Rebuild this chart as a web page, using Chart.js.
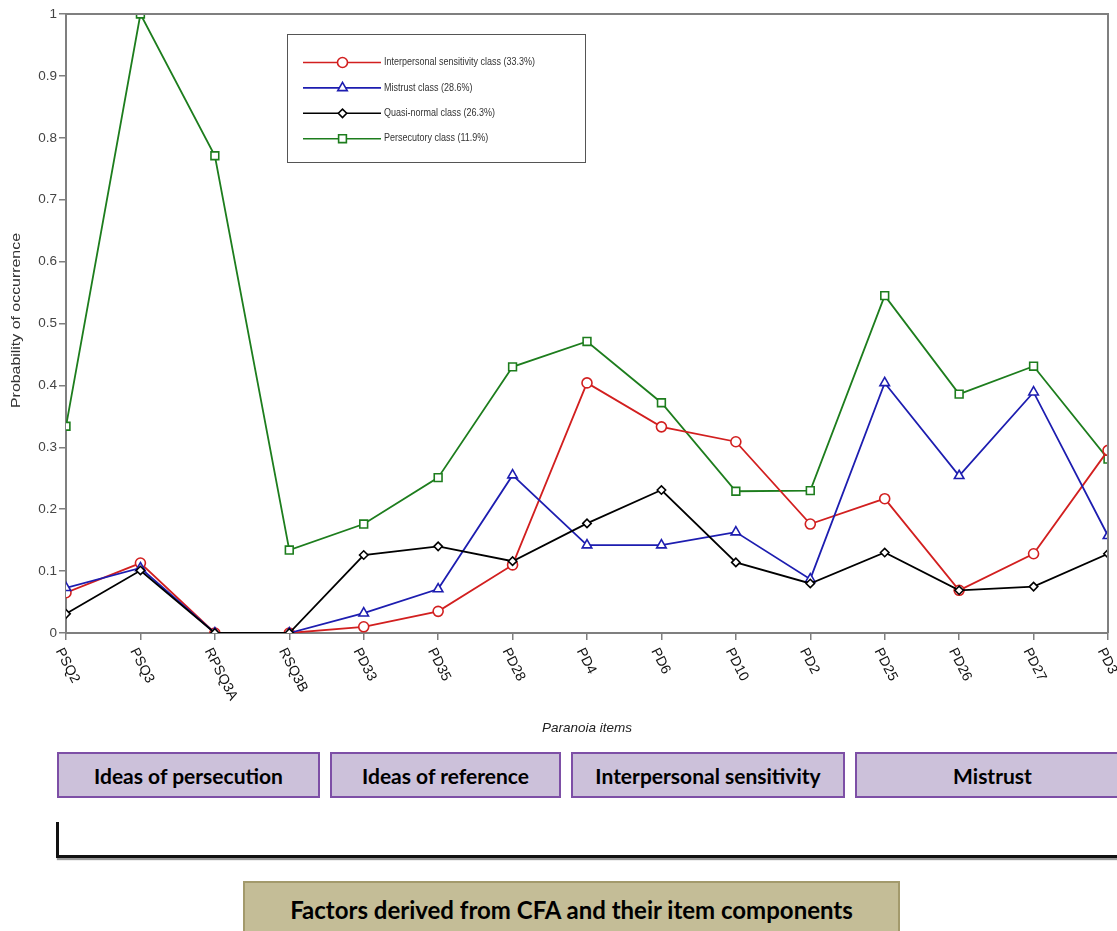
<!DOCTYPE html>
<html>
<head>
<meta charset="utf-8">
<script src="https://cdn.jsdelivr.net/npm/chart.js@4/dist/chart.umd.min.js"></script>
<style>
  html, body { margin: 0; padding: 0; background: #fff; }
  body { width: 1117px; height: 931px; position: relative; overflow: hidden; font-family: "Liberation Sans", Arial, sans-serif; }
  #wrap { position: absolute; left: 0; top: 0; width: 1117px; height: 745px; }
  .factor { position: absolute; top: 752px; height: 46px; background: #ccc1da; border: 2px solid #7d4fa6;
            display: flex; align-items: center; justify-content: center; box-sizing: border-box;
            font-family: Lato, "Open Sans", sans-serif; font-weight: bold; font-size: 21px; color: #000; }
  #bracket { position: absolute; left: 56px; top: 822px; width: 1064px; height: 33px;
             border-left: 3px solid #111; border-bottom: 3px solid #111; border-right: 2px solid #bbb;
             box-shadow: 1px 2px 1px #9a9a9a; }
  #cfa { position: absolute; left: 243px; top: 881px; width: 657px; height: 60px; box-sizing: border-box;
         background: #c4bd97; border: 2px solid #a39a6c; display: flex; align-items: flex-start; justify-content: center;
         padding-top: 12px; font-family: Lato, "Open Sans", sans-serif; font-weight: bold; font-size: 24px; color: #000; }
</style>
</head>
<body>
<div id="wrap"><canvas id="chart" width="1117" height="745"></canvas></div>

<div class="factor" style="left:57px; width:263px;">Ideas of persecution</div>
<div class="factor" style="left:330px; width:231px;">Ideas of reference</div>
<div class="factor" style="left:571px; width:274px;">Interpersonal sensitivity</div>
<div class="factor" style="left:855px; width:275px;">Mistrust</div>
<div id="bracket"></div>
<div id="cfa">Factors derived from CFA and their item components</div>

<script>
// Paranoia items along the x axis
const categories = ['PSQ2', 'PSQ3', 'RPSQ3A', 'RSQ3B', 'PD33', 'PD35', 'PD28', 'PD4', 'PD6', 'PD10', 'PD2', 'PD25', 'PD26', 'PD27', 'PD3'];

// Probability of occurrence of each item, per latent class
const interpersonalSensitivity = [0.065, 0.113, 0, 0, 0.010, 0.035, 0.110, 0.404, 0.333, 0.309, 0.176, 0.217, 0.069, 0.128, 0.295];
const mistrust                 = [0.073, 0.105, 0, 0, 0.032, 0.071, 0.255, 0.142, 0.142, 0.163, 0.087, 0.404, 0.254, 0.389, 0.157];
const quasiNormal              = [0.031, 0.101, 0, 0, 0.126, 0.140, 0.116, 0.177, 0.231, 0.114, 0.080, 0.130, 0.069, 0.075, 0.128];
const persecutory              = [0.334, 1.000, 0.771, 0.134, 0.176, 0.251, 0.430, 0.471, 0.372, 0.229, 0.230, 0.545, 0.386, 0.431, 0.281];

const seriesLabels = [
  'Interpersonal sensitivity class (33.3%)',
  'Mistrust class (28.6%)',
  'Quasi-normal class (26.3%)',
  'Persecutory class (11.9%)'
];

const yTickLabels = ['0', '0.1', '0.2', '0.3', '0.4', '0.5', '0.6', '0.7', '0.8', '0.9', '1'];
const xTitle = 'Paranoia items';
const yTitle = 'Probability of occurrence';

const RED = '#d21f1f', BLUE = '#1d1db0', BLACK = '#000000', GREEN = '#1d7d1d';
const AXIS_GREY = '#7f7f7f';
const PLOT_BOTTOM = 633;
const FONT = '"Liberation Sans", Arial, sans-serif';

function series(label, data, color, style, radius, order) {
  return {
    label, data, order,
    borderColor: color, borderWidth: 1.8,
    pointStyle: style, pointRadius: radius, pointHoverRadius: radius,
    pointBorderColor: color, pointBackgroundColor: '#ffffff', pointBorderWidth: 1.6,
    tension: 0, clip: 0
  };
}

// Frame, rotated item labels, axis titles and in-plot legend
const decorations = {
  id: 'decorations',
  afterDraw(chart) {
    const ctx = chart.ctx;
    const a = chart.chartArea;
    const xs = chart.scales.x;
    ctx.save();

    // top and right frame lines
    ctx.strokeStyle = AXIS_GREY;
    ctx.lineWidth = 2;
    ctx.beginPath();
    ctx.moveTo(a.left, a.top);
    ctx.lineTo(a.right, a.top);
    ctx.lineTo(a.right, a.bottom);
    ctx.stroke();

    // item labels, slanted downward to the right
    ctx.fillStyle = '#111';
    ctx.font = '14px ' + FONT;
    ctx.textAlign = 'left';
    ctx.textBaseline = 'middle';
    categories.forEach((c, i) => {
      const px = xs.getPixelForTick(i);
      ctx.save();
      ctx.translate(px - 7, a.bottom + 16);
      ctx.rotate(63 * Math.PI / 180);
      ctx.fillText(c, 0, 0);
      ctx.restore();
    });

    // x axis title
    ctx.font = 'italic 13.5px ' + FONT;
    ctx.textAlign = 'center';
    ctx.fillStyle = '#222';
    ctx.fillText(xTitle, (a.left + a.right) / 2, 728);

    // y axis title, stretched along its run
    ctx.font = '13px ' + FONT;
    ctx.fillStyle = '#333';
    ctx.save();
    ctx.translate(16, (a.top + a.bottom) / 2 - 3);
    ctx.rotate(-Math.PI / 2);
    ctx.scale(175 / ctx.measureText(yTitle).width, 1);
    ctx.fillText(yTitle, 0, 0);
    ctx.restore();

    // legend box
    const lx = 287.5, ly = 34.5, lw = 298, lh = 128;
    ctx.fillStyle = '#fff';
    ctx.fillRect(lx, ly, lw, lh);
    ctx.strokeStyle = '#555';
    ctx.lineWidth = 1;
    ctx.strokeRect(lx, ly, lw, lh);

    ctx.font = '10px ' + FONT;
    const sx = 151 / ctx.measureText(seriesLabels[0]).width;
    chart.data.datasets.forEach((ds, i) => {
      const y = 62.5 + i * 25.4;
      ctx.strokeStyle = ds.borderColor;
      ctx.lineWidth = 1.6;
      ctx.beginPath();
      ctx.moveTo(303, y);
      ctx.lineTo(381, y);
      ctx.stroke();
      ctx.fillStyle = '#fff';
      ctx.strokeStyle = ds.borderColor;
      Chart.helpers.drawPoint(ctx, { pointStyle: ds.pointStyle, radius: ds.pointRadius, rotation: 0, borderWidth: 1.6 }, 342.5, y);
      ctx.fillStyle = '#333';
      ctx.textAlign = 'left';
      ctx.textBaseline = 'middle';
      ctx.save();
      ctx.translate(384, y);
      ctx.scale(sx, 1);
      ctx.fillText(ds.label, 0, 0);
      ctx.restore();
    });
    ctx.restore();
  }
};

new Chart(document.getElementById('chart'), {
  type: 'line',
  data: {
    labels: categories,
    datasets: [
      series(seriesLabels[0], interpersonalSensitivity, RED, 'circle', 5, 3),
      series(seriesLabels[1], mistrust, BLUE, 'triangle', 5.5, 2),
      series(seriesLabels[2], quasiNormal, BLACK, 'rectRot', 4.2, 1),
      series(seriesLabels[3], persecutory, GREEN, 'rect', 5.5, 4)
    ]
  },
  options: {
    responsive: false,
    animation: false,
    events: [],
    layout: { padding: { top: 14, right: 9, left: 0, bottom: 0 } },
    plugins: { legend: { display: false }, tooltip: { enabled: false } },
    scales: {
      x: {
        offset: false,
        grid: { display: true, drawOnChartArea: false, drawTicks: true, tickLength: 7, color: AXIS_GREY, lineWidth: 1.5 },
        border: { display: true, color: AXIS_GREY, width: 2 },
        ticks: { display: false },
        afterFit(scale) { scale.height = 745 - PLOT_BOTTOM; }
      },
      y: {
        min: 0, max: 1,
        grid: { display: true, drawOnChartArea: false, drawTicks: true, tickLength: 7, color: AXIS_GREY, lineWidth: 1.5 },
        border: { display: true, color: AXIS_GREY, width: 2 },
        ticks: {
          stepSize: 0.1, padding: 2, color: '#444',
          font: { family: FONT, size: 13.5 },
          callback: (v, i) => yTickLabels[i]
        },
        afterFit(scale) { scale.width = 66; }
      }
    }
  },
  plugins: [decorations]
});
</script>
</body>
</html>
